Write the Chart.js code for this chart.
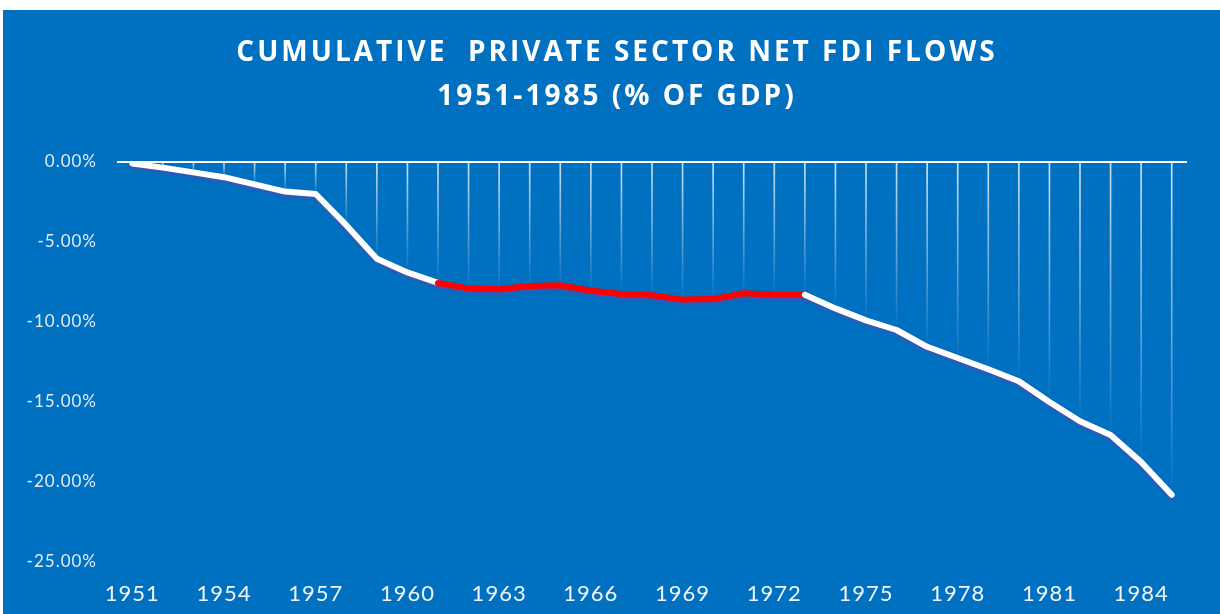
<!DOCTYPE html>
<html>
<head>
<meta charset="utf-8">
<script src="https://cdn.jsdelivr.net/npm/chart.js@4"></script>
<style>
  html, body { margin: 0; padding: 0; background: #ffffff; }
  #wrap { position: absolute; left: 3px; top: 10px; width: 1217px; height: 604px; background: #0070c0; }
</style>
</head>
<body>
<div id="wrap"><canvas id="fdiChart"></canvas></div>
<script>
const years = [];
for (let y = 1951; y <= 1985; y++) years.push(String(y));

// cumulative net FDI flows, % of GDP
const fdiValues = [
    -0.1, -0.35, -0.65, -0.95, -1.4, -1.85, -2.0, -3.95, -6.05, -6.9,
    -7.56, -7.9, -7.95, -7.75, -7.7, -8.05, -8.25, -8.33, -8.6, -8.57,
    -8.2, -8.3, -8.3, -9.15, -9.9, -10.5, -11.55, -12.25, -12.95, -13.7,
    -15.0, -16.2, -17.06, -18.75, -20.8
];

// highlighted stretch 1961-1973
const redFrom = years.indexOf("1961");
const redTo = years.indexOf("1973");

const yTicks = [0, -5, -10, -15, -20, -25];

function dropGradient(context) {
    const chart = context.chart;
    if (!chart.chartArea || !chart.scales.y) return "rgba(255,255,255,0.4)";
    const yScale = chart.scales.y;
    const top = yScale.getPixelForValue(0);
    const bottom = yScale.getPixelForValue(context.raw);
    if (bottom - top < 1) return "rgba(255,255,255,0.6)";
    const g = chart.ctx.createLinearGradient(0, top, 0, bottom);
    g.addColorStop(0, "rgba(255,255,255,0.8)");
    g.addColorStop(1, "rgba(255,255,255,0.02)");
    return g;
}

// wider letters like the original, extra for the title (title sits a bit right of canvas centre)
const spacing = {
    id: "spacing",
    afterInit(chart) {
        const tb = chart.titleBlock;
        if (!tb) return;
        const orig = tb.draw;
        tb.draw = function (area) {
            const c = chart.ctx;
            c.save();
            c.letterSpacing = "3px";
            c.translate(22, 0);
            orig.call(this, area);
            c.restore();
        };
    },
    beforeDraw(chart) {
        chart.ctx.letterSpacing = "1px";
    },
    afterDraw(chart) {
        chart.ctx.letterSpacing = "0px";
    },
};

const lineShadow = {
    id: "lineShadow",
    beforeDatasetDraw(chart, args) {
        if (args.meta.type !== "line") return;
        const ctx = chart.ctx;
        ctx.save();
        ctx.shadowColor = "rgba(90,70,170,0.7)";
        ctx.shadowOffsetY = 2;
        ctx.shadowBlur = 3;
    },
    afterDatasetDraw(chart, args) {
        if (args.meta.type !== "line") return;
        chart.ctx.restore();
    },
};

const ctx = document.getElementById("fdiChart").getContext("2d");

new Chart(ctx, {
    data: {
        labels: years,
        datasets: [
            {
                type: "line",
                label: "Cumulative net FDI",
                data: fdiValues,
                borderColor: "#ffffff",
                borderWidth: 6,
                borderCapStyle: "round",
                borderJoinStyle: "round",
                pointRadius: 0,
                tension: 0,
                order: 0,
                segment: {
                    borderColor: (c) =>
                        c.p0DataIndex >= redFrom && c.p1DataIndex <= redTo ? "#ff0000" : "#ffffff",
                },
            },
            {
                type: "bar",
                label: "drop",
                data: fdiValues,
                backgroundColor: dropGradient,
                borderWidth: 0,
                barThickness: 1,
                order: 1,
            },
        ],
    },
    options: {
        responsive: true,
        maintainAspectRatio: false,
        animation: false,
        layout: {
            padding: { top: 0, left: 0, right: 33, bottom: 0 },
        },
        plugins: {
            legend: { display: false },
            tooltip: { enabled: false },
            title: {
                display: true,
                text: ["CUMULATIVE  PRIVATE SECTOR NET FDI FLOWS", "1951-1985 (% OF GDP)"],
                color: "#ffffff",
                font: { family: "'Open Sans'", size: 28, weight: "bold", lineHeight: "44px" },
                padding: { top: 21, bottom: 43 },
            },
        },
        scales: {
            x: {
                type: "category",
                offset: true,
                grid: { display: false, drawTicks: false },
                border: { display: false },
                afterFit: (scale) => {
                    scale.height = 52;
                },
                ticks: {
                    color: "#f2f6fb",
                    font: { family: "Lato", size: 22 },
                    padding: 19,
                    autoSkip: false,
                    maxRotation: 0,
                    callback: function (val, i) {
                        return i % 3 === 0 ? this.getLabelForValue(val) : "";
                    },
                },
            },
            y: {
                min: -25,
                max: 0,
                afterBuildTicks: (scale) => {
                    scale.ticks = yTicks.map((v) => ({ value: v }));
                },
                afterFit: (scale) => {
                    scale.width = 114;
                },
                grid: {
                    drawTicks: false,
                    color: (c) => (c.tick && c.tick.value === 0 ? "#ffffff" : "rgba(0,0,0,0)"),
                    lineWidth: 2,
                },
                border: { display: false },
                ticks: {
                    color: "#e3ebf5",
                    font: { family: "Lato", size: 17 },
                    padding: 20,
                    callback: (v) => v.toFixed(2) + "%",
                },
            },
        },
    },
    plugins: [spacing, lineShadow],
});
</script>
</body>
</html>
